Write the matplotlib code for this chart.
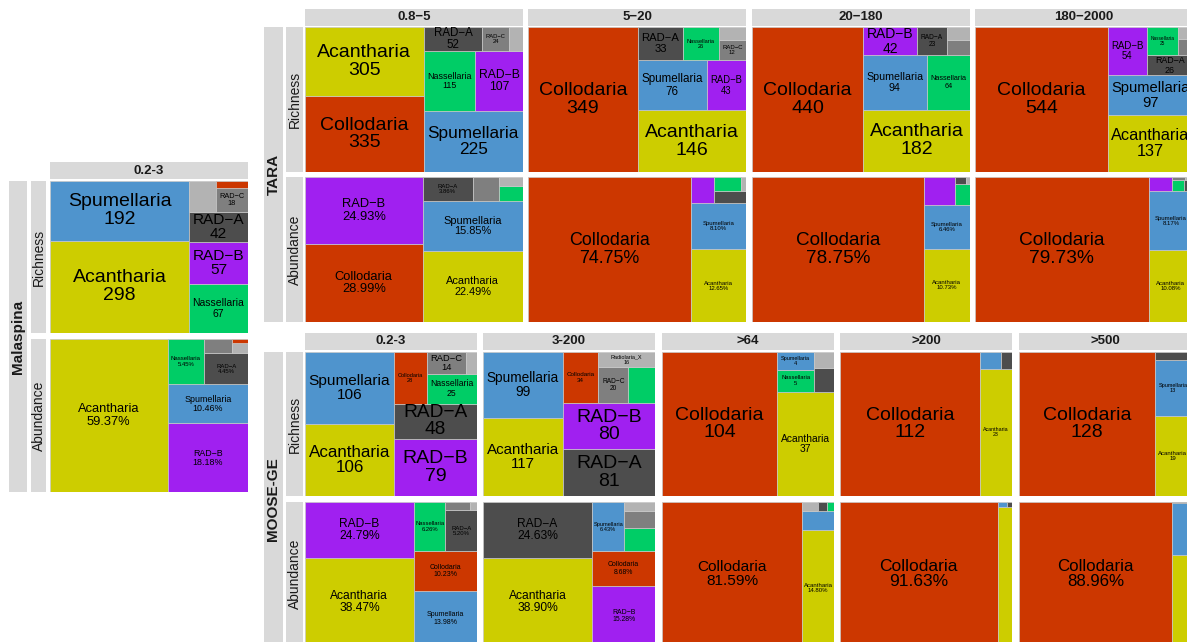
import matplotlib
matplotlib.use('Agg')
import matplotlib.pyplot as plt
from matplotlib.patches import Rectangle

plt.rcParams['font.family'] = ['Liberation Sans', 'DejaVu Sans']

# taxa and their fill colours
taxa = ['Acantharia', 'Collodaria', 'Spumellaria', 'Nassellaria',
        'RAD-B', 'RAD-A', 'RAD-C', 'Radiolaria_X']
taxa_colors = ['#CDCD00', '#CC3700', '#4F94CD', '#00CD66',
               '#A020F0', '#4D4D4D', '#7F7F7F', '#B3B3B3']

# values follow the taxa order, 0 = absent
mala_sizes = ['0.2-3']
mala_rich = [[298, 5, 192, 67, 57, 42, 18, 19]]
mala_abun = [[59.37, 0.20, 10.46, 5.45, 18.18, 4.45, 1.30, 0.55]]

tara_sizes = ['0.8\u22125', '5\u221220', '20\u2212180', '180\u22122000']
tara_rich = [
    [305, 335, 225, 115, 107, 52, 24, 12],
    [146, 349, 76, 26, 43, 33, 12, 8],
    [182, 440, 94, 64, 42, 23, 10, 8],
    [137, 544, 97, 25, 54, 26, 7, 5],
]
tara_abun = [
    [22.49, 28.99, 15.85, 1.20, 24.93, 3.86, 2.00, 0.68],
    [12.65, 74.75, 8.10, 1.18, 1.90, 1.22, 0, 0.20],
    [10.73, 78.75, 6.46, 1.00, 2.75, 0.22, 0, 0.09],
    [10.08, 79.73, 8.17, 0.45, 1.05, 0.32, 0.12, 0.08],
]

moose_sizes = ['0.2-3', '3-200', '>64', '>200', '>500']
moose_rich = [
    [106, 28, 106, 25, 79, 48, 14, 4],
    [117, 34, 99, 18, 80, 81, 20, 16],
    [37, 104, 4, 5, 0, 3, 0, 2],
    [23, 112, 2, 0, 0, 1, 0, 0],
    [19, 128, 13, 0, 0, 2, 0, 0],
]
moose_abun = [
    [38.47, 10.23, 13.98, 6.26, 24.79, 5.20, 0.85, 0.22],
    [38.90, 8.68, 6.43, 2.85, 15.28, 24.63, 2.20, 1.05],
    [14.80, 81.59, 2.43, 0.25, 0, 0.36, 0, 0.58],
    [8.08, 91.63, 0.18, 0, 0, 0.11, 0, 0],
    [6.95, 88.96, 4.05, 0, 0, 0.04, 0, 0],
]

W, H = 1187, 642
STRIP = '#D9D9D9'
TXT = '#1A1A1A'
BASE_SIZE = 14          # pt
BASE_PX = BASE_SIZE * 100 / 72
PAD = 3.5               # px

fig = plt.figure(figsize=(W / 100, H / 100), dpi=100)
labels = []


def px_axes(x0, y0, x1, y1):
    return fig.add_axes([x0 / W, 1 - y1 / H, (x1 - x0) / W, (y1 - y0) / H])


def strip(x0, y0, x1, y1, text, rot=0, bold=True, size=9.5):
    ax = px_axes(x0, y0, x1, y1)
    ax.set_xticks([])
    ax.set_yticks([])
    ax.set_facecolor(STRIP)
    for s in ax.spines.values():
        s.set_visible(False)
    ax.text(0.5, 0.5, text, ha='center', va='center', rotation=rot,
            fontsize=size, fontweight='bold' if bold else 'normal',
            color=TXT, transform=ax.transAxes)


def squarify(vals):
    # treemapify style: unit square, rows laid along the shorter side from bottom-left
    total = float(sum(vals))
    items = [v / total for v in vals]
    x, y, w, h = 0.0, 0.0, 1.0, 1.0
    rects = []

    def worst(row, side):
        thick = sum(row) / side
        return max(max(thick / (v / thick), (v / thick) / thick) for v in row)

    while items:
        vertical = w >= h
        side = h if vertical else w
        row = [items[0]]
        i = 1
        while i < len(items) and worst(row + [items[i]], side) <= worst(row, side):
            row.append(items[i])
            i += 1
        thick = sum(row) / side
        pos = y if vertical else x
        for v in row:
            length = v / thick
            if vertical:
                rects.append((x, pos, thick, length))
            else:
                rects.append((pos, y, length, thick))
            pos += length
        if vertical:
            x += thick
            w -= thick
        else:
            y += thick
            h -= thick
        items = items[i:]
    return rects


def treemap(ax, values, pct):
    ax.set_xlim(0, 1)
    ax.set_ylim(0, 1)
    ax.set_axis_off()
    order = sorted([i for i in range(len(taxa)) if values[i] > 0],
                   key=lambda i: -values[i])
    rects = squarify([values[i] for i in order])
    for i, (rx, ry, rw, rh) in zip(order, rects):
        ax.add_patch(Rectangle((rx, ry), rw, rh, facecolor=taxa_colors[i],
                               edgecolor='#C8C8C8', linewidth=0.5))
        name = taxa[i].replace('-', '\u2212')
        val = f'{values[i]:.2f}%' if pct else f'{int(values[i])}'
        t = ax.text(rx + rw / 2, ry + rh / 2, f'{name}\n{val}', ha='center',
                    va='center', fontsize=BASE_SIZE, color='black',
                    linespacing=1.05)
        labels.append((t, ax, (rx, ry, rx + rw, ry + rh), pct, values[i]))


def group(name, sizes, rich, abun, xs, width, head_y, rich_y, abun_y, row_x, out_x):
    for k, sz in enumerate(sizes):
        x0 = xs[k]
        strip(x0, head_y[0], x0 + width, head_y[1], sz)
        treemap(px_axes(x0, rich_y[0], x0 + width, rich_y[1]), rich[k], False)
        treemap(px_axes(x0, abun_y[0], x0 + width, abun_y[1]), abun[k], True)
    strip(row_x[0], rich_y[0], row_x[1], rich_y[1], 'Richness', rot=90, bold=False, size=10)
    strip(row_x[0], abun_y[0], row_x[1], abun_y[1], 'Abundance', rot=90, bold=False, size=10)
    strip(out_x[0], rich_y[0], out_x[1], abun_y[1], name, rot=90, size=11)


group('Malaspina', mala_sizes, mala_rich, mala_abun, [50], 198,
      (162, 179), (181, 333), (339, 492), (31, 46), (9, 27))
group('TARA', tara_sizes, tara_rich, tara_abun, [305, 528, 752, 975], 218,
      (9, 26), (27, 172), (177, 322), (286, 303), (264, 283))
group('MOOSE-GE', moose_sizes, moose_rich, moose_abun,
      [305, 483, 662, 840, 1019], 172,
      (333, 350), (352, 496), (502, 646), (286, 303), (264, 283))

# size every label from its tile: richness labels shrink to fit,
# abundance labels scale with the tile width
fig.canvas.draw()
renderer = fig.canvas.get_renderer()
for t, ax, (bx0, by0, bx1, by1), pct, v in labels:
    bb = t.get_window_extent(renderer)
    p0 = ax.transData.transform((bx0, by0))
    p1 = ax.transData.transform((bx1, by1))
    w = p1[0] - p0[0]
    h = p1[1] - p0[1]
    em_w = bb.width / BASE_PX
    em_h = bb.height * 0.82 / BASE_PX
    if pct:
        px = 0.11 * w
        if w >= 25:
            px = max(px, min(6.0, (w - 2) / em_w))
        px = min(px, (h - 2) / em_h, BASE_PX)
        show = v >= 3.5 and px >= 3.0
    else:
        px = min((w - 2 * PAD) / em_w, (h - 2 * PAD) / em_h, BASE_PX)
        show = px >= 4.0 and w >= 24
    if show:
        t.set_fontsize(px * 72 / 100)
    else:
        t.remove()

fig.savefig('out.png', dpi=100)
